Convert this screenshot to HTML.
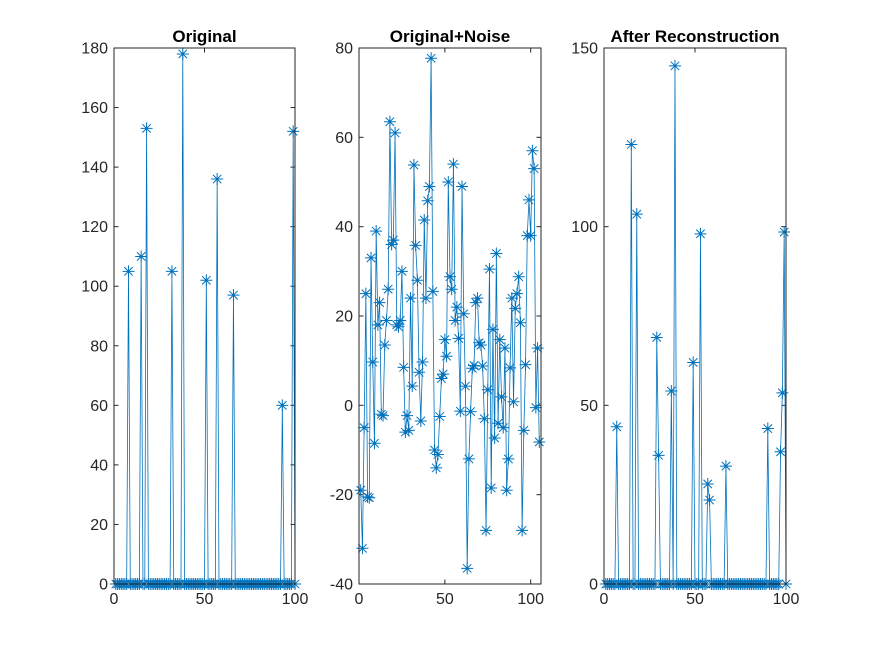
<!DOCTYPE html>
<html><head><meta charset="utf-8"><style>
body{margin:0;background:#fff;}
svg{display:block;font-family:"Liberation Sans",Arial,sans-serif;}
</style></head><body>
<svg id="fig" width="875" height="656" viewBox="0 0 875 656" xmlns="http://www.w3.org/2000/svg">
<rect width="875" height="656" fill="#fff"/>
</svg>
<script>
const originalValues=[0,0,0,0,0,0,0,105,0,0,0,0,0,0,110,0,0,153,0,0,0,0,0,0,0,0,0,0,0,0,0,105,0,0,0,0,0,178,0,0,0,0,0,0,0,0,0,0,0,0,102,0,0,0,0,0,136,0,0,0,0,0,0,0,0,97,0,0,0,0,0,0,0,0,0,0,0,0,0,0,0,0,0,0,0,0,0,0,0,0,0,0,60,0,0,0,0,0,152,0];
const noisyValues=[-19,-32,-5,25,-20.5,-20.7,33,9.7,-8.5,39,18,23,-2,-2.3,13.5,19,26,63.5,36,37,61,18,17.6,19,30,8.5,-6,-2.3,-5.6,24,4.3,53.8,35.8,28,7.4,-3.5,9.7,41.5,24,45.8,49,77.7,25.5,-10,-14,-11,-2.5,6,7,14.7,11,50,28.8,26,54,19,22,15,-1.3,49,20.5,4.3,-36.5,-12,-1.4,8.3,8.9,23,24,14,13.5,8.8,-3,-28,3.5,30.5,-18.5,17,-7.3,34,-4,14.7,1.9,-5,12.8,-19,-12,8.4,24,0.8,21.7,25,28.8,18.5,-28,-5.6,9.1,38,46,38,57,53,-0.5,12.8,-8.2];
const reconValues=[0,0,0,0,0,0,44,0,0,0,0,0,0,0,123,0,0,103.5,0,0,0,0,0,0,0,0,0,0,69,36,0,0,0,0,0,0,54,0,145,0,0,0,0,0,0,0,0,0,62,0,0,0,98,0,0,0,28,23.5,0,0,0,0,0,0,0,0,33,0,0,0,0,0,0,0,0,0,0,0,0,0,0,0,0,0,0,0,0,0,0,43.5,0,0,0,0,0,0,37,53.5,98.5,0];
const titles=["Original","Original+Noise","After Reconstruction"];
const xTicks=[0,50,100];
const yTicks1=[0,20,40,60,80,100,120,140,160,180];
const yTicks2=[-40,-20,0,20,40,60,80];
const yTicks3=[0,50,100,150];
const NS="http://www.w3.org/2000/svg";
const svg=document.getElementById('fig');
function mk(t,a,p){const e=document.createElementNS(NS,t);for(const k in a)e.setAttribute(k,a[k]);(p||svg).appendChild(e);return e;}
const panels=[
 {L:114,R:295,T:48,B:584,x0:0,x1:100,y0:0,y1:180,data:originalValues,yt:yTicks1,name:'original'},
 {L:359,R:541,T:48,B:584,x0:0,x1:106,y0:-40,y1:80,data:noisyValues,yt:yTicks2,name:'noisy'},
 {L:604,R:786,T:48,B:584,x0:0,x1:100,y0:0,y1:150,data:reconValues,yt:yTicks3,name:'reconstruction'}
];
panels.forEach((p,pi)=>{
 const g=mk('g',{});
 
 
 const sx=v=>p.L+(v-p.x0)/(p.x1-p.x0)*(p.R-p.L);
 const sy=v=>p.B-(v-p.y0)/(p.y1-p.y0)*(p.B-p.T);
 const tl=(p.R-p.L)*0.025;
 xTicks.forEach(t=>{
  const x=sx(t);
  mk('line',{x1:x,y1:p.B,x2:x,y2:p.B-tl,stroke:'#262626','stroke-width':1},g);
  mk('line',{x1:x,y1:p.T,x2:x,y2:p.T+tl,stroke:'#262626','stroke-width':1},g);
  const tx=mk('text',{x:x,y:p.B+20,'text-anchor':'middle','font-size':'16',fill:'#262626'},g);
  tx.textContent=t;
  
  
 });
 p.yt.forEach(t=>{
  const y=sy(t);
  mk('line',{x1:p.L,y1:y,x2:p.L+tl,y2:y,stroke:'#262626','stroke-width':1},g);
  mk('line',{x1:p.R,y1:y,x2:p.R-tl,y2:y,stroke:'#262626','stroke-width':1},g);
  const tx=mk('text',{x:p.L-6,y:y+5.5,'text-anchor':'end','font-size':'16',fill:'#262626'},g);
  tx.textContent=t;
  
  
 });
 const pts=p.data.map((v,i)=>[sx(i+1),sy(v)]);
 const line=mk('polyline',{points:pts.map(q=>q[0].toFixed(2)+','+q[1].toFixed(2)).join(' '),fill:'none',stroke:'#0072BD','stroke-width':0.8},g);
 
 
 pts.forEach(q=>{
  const m=mk('path',{d:`M${q[0]-6},${q[1]}h12M${q[0]},${q[1]-6}v12M${q[0]-4.2},${q[1]-4.2}l8.4,8.4M${q[0]-4.2},${q[1]+4.2}l8.4,-8.4`,stroke:'#0072BD','stroke-width':1,fill:'none'},g);
  
  
 });
 const box=mk('rect',{x:p.L,y:p.T,width:p.R-p.L,height:p.B-p.T,fill:'none',stroke:'#262626','stroke-width':1},g);
 
 
 const tt=mk('text',{x:(p.L+p.R)/2,y:42,'text-anchor':'middle','font-size':'17','font-weight':'bold',fill:'#000'},g);
 tt.textContent=titles[pi];
 
 
});
</script>
</body></html>
